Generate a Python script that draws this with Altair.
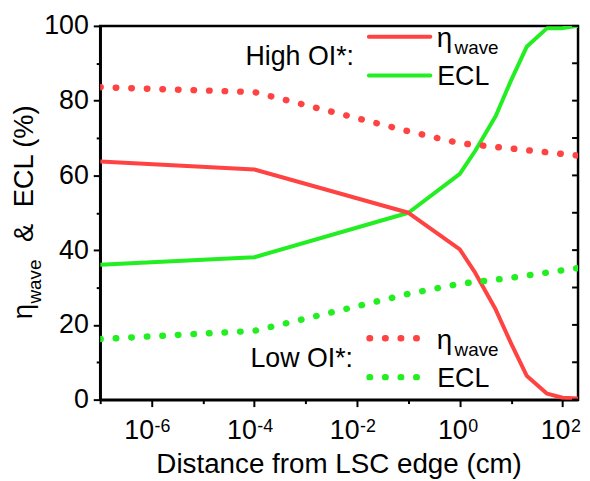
import altair as alt
import pandas as pd

# ---------------- data ----------------
x_high = [1e-7, 1e-4, 0.1, 1, 2, 5, 10, 20, 50, 100, 200]
eta_high = [63.7, 61.6, 50.0, 40.2, 33.9, 24.1, 15.0, 6.4, 1.6, 0.5, 0.3]
ecl_high = [36.1, 38.1, 50.0, 60.4, 66.6, 75.9, 85.5, 94.4, 99.4, 99.4, 100.0]

x_low = [1e-7, 1e-4, 0.1, 1, 10, 200]
eta_low = [83.6, 82.3, 71.8, 68.6, 67.2, 65.3]
ecl_low = [16.2, 18.4, 28.3, 31.0, 32.6, 35.2]

y_ticks = [0, 10, 20, 30, 40, 50, 60, 70, 80, 90, 100]
x_exponents = [-7, -6, -5, -4, -3, -2, -1, 0, 1, 2]
label_neg = ["-6", "-4", "-2"]
label_pos = ["0", "2"]

RED = "#FF4343"
GREEN = "#22EE22"
FONT = "Liberation Sans"
W, H = 482, 377

# ---------------- scales / axes ----------------
xscale = alt.Scale(type="log", domain=[1e-7, 200], nice=False)
yscale = alt.Scale(domain=[0, 100], nice=False, zero=False)

xaxis = alt.Axis(
    values=[10.0 ** k for k in x_exponents],
    labels=False, title=None, grid=False,
    tickSize={"condition": {"test": "abs(round(log(datum.value)/LN10)) % 2 == 0", "value": 7}, "value": 4},
    tickWidth=2, tickColor="black", domainColor="black", domainWidth=2.5,
)
yaxis = alt.Axis(
    values=y_ticks, title=None, grid=False,
    labelExpr="datum.value % 20 == 0 ? datum.label : ''",
    tickSize={"condition": {"test": "datum.value % 20 == 0", "value": 7}, "value": 4},
    tickWidth=2, tickColor="black", domainColor="black", domainWidth=2.5,
    labelFont=FONT, labelFontSize=27, labelColor="black", labelPadding=5,
)


def X():
    return alt.X("x:Q", scale=xscale, axis=xaxis)


def Y():
    return alt.Y("y:Q", scale=yscale, axis=yaxis)


def df(xs, ys):
    return pd.DataFrame({"x": xs, "y": ys})


solid = dict(strokeWidth=4, clip=True, strokeCap="butt", strokeJoin="round")
dotted = dict(strokeWidth=6.5, clip=True, strokeCap="round", strokeDash=[0.5, 15.2])

layers = []
layers.append(alt.Chart(df(x_high, ecl_high)).mark_line(color=GREEN, **solid).encode(x=X(), y=Y()))
layers.append(alt.Chart(df(x_high, eta_high)).mark_line(color=RED, **solid).encode(x=X(), y=Y()))
layers.append(alt.Chart(df(x_low, ecl_low)).mark_line(color=GREEN, **dotted).encode(x=X(), y=Y()))
layers.append(alt.Chart(df(x_low, eta_low)).mark_line(color=RED, **dotted).encode(x=X(), y=Y()))

# right-side inward ticks
layers.append(
    alt.Chart(pd.DataFrame({"y": y_ticks})).mark_rule(color="black", strokeWidth=2)
    .encode(y=Y(), x=alt.value(W - 6), x2=alt.value(W))
)

# x tick labels 10^k
for labs, dx in ((label_neg, 2.5), (label_pos, 8)):
    d = pd.DataFrame({"x": [10.0 ** int(e) for e in labs], "e": labs, "b": ["10"] * len(labs)})
    layers.append(
        alt.Chart(d).mark_text(font=FONT, fontSize=27, align="right", baseline="alphabetic", dx=dx, color="black")
        .encode(x=X(), y=alt.value(H + 39.7), text="b:N")
    )
    layers.append(
        alt.Chart(d).mark_text(font=FONT, fontSize=18, align="left", baseline="alphabetic", dx=dx + 0.5, color="black")
        .encode(x=X(), y=alt.value(H + 32.3), text="e:N")
    )


def label(t, x, y, size, align="left", angle=0):
    kw = dict(font=FONT, fontSize=size, align=align, baseline="alphabetic", color="black")
    if angle:
        kw["angle"] = angle
    return alt.Chart(pd.DataFrame({"t": [t]})).mark_text(**kw).encode(
        x=alt.value(x), y=alt.value(y), text="t:N")


# x title
layers.append(label("Distance from LSC edge (cm)", W / 2, 451.3, 28, align="center"))

# y title pieces (rotated)
layers.append(label("η", -69, 296, 28, angle=270))
layers.append(label("wave", -60, 280, 19, angle=270))
layers.append(label("&", -68, 218, 27.5, angle=270))
layers.append(label("ECL (%)", -68, 183, 27.5, angle=270))

# legend: High OI*
layers.append(label("High OI*:", 256, 39, 27, align="right"))
layers.append(alt.Chart(pd.DataFrame({"a": [0]})).mark_rule(color=RED, strokeWidth=4, strokeCap="round")
              .encode(x=alt.value(271), x2=alt.value(333), y=alt.value(11)))
layers.append(alt.Chart(pd.DataFrame({"a": [0]})).mark_rule(color=GREEN, strokeWidth=4, strokeCap="round")
              .encode(x=alt.value(271), x2=alt.value(333), y=alt.value(50)))
layers.append(label("η", 339.5, 21, 28))
layers.append(label("wave", 357.5, 28.3, 19))
layers.append(label("ECL", 340, 59.3, 27))

# legend: Low OI*
layers.append(label("Low OI*:", 255, 344.3, 27, align="right"))
layers.append(alt.Chart(pd.DataFrame({"a": [0]})).mark_rule(color=RED, strokeWidth=6.5, strokeCap="round", strokeDash=[0.5, 15.2])
              .encode(x=alt.value(271.7), x2=alt.value(320), y=alt.value(315)))
layers.append(alt.Chart(pd.DataFrame({"a": [0]})).mark_rule(color=GREEN, strokeWidth=6.5, strokeCap="round", strokeDash=[0.5, 15.2])
              .encode(x=alt.value(271.7), x2=alt.value(320), y=alt.value(354.3)))
layers.append(label("η", 339.5, 326, 28))
layers.append(label("wave", 357.5, 332.7, 19))
layers.append(label("ECL", 340, 364.3, 27))

chart = (
    alt.layer(*layers)
    .properties(
        width=W, height=H,
        autosize=alt.AutoSizeParams(type="none"),
        padding={"left": 93, "top": 16, "right": 4, "bottom": 79},
    )
    .configure_view(stroke="black", strokeWidth=2.5)
)

chart.save("out.html", embed_options={"renderer": "svg", "actions": False})
